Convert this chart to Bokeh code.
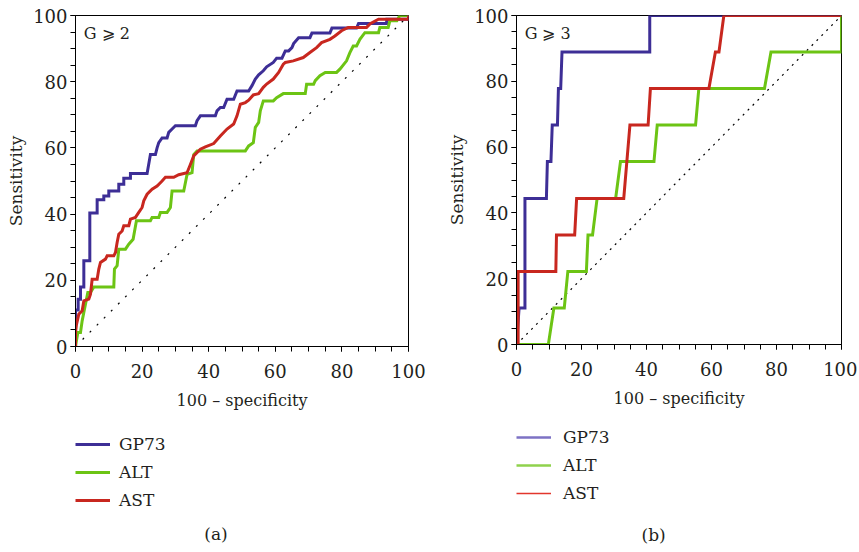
from bokeh.plotting import figure
from bokeh.models import Range1d, Legend, LegendItem, Label, SingleIntervalTicker
from bokeh.layouts import row, column
from bokeh.embed import file_html
from bokeh.resources import INLINE

FONT = "DejaVu Serif"
TXT = "#231f20"
NAN = float("nan")

# ---------------- Panel (a): G >= 2 ----------------
a_gp73_x = [0, 0, 0.8, 0.8, 1.5, 1.5, 2.5, 2.5, 4.3, 4.3, 6.5, 6.5, 8.5, 8.5, 10, 10, 13, 13, 14.5, 14.5,
            16.5, 16.5, 21.5, 22.5, 24, 24.5, 25, 26, 27.5, 28, 29, 30, 36, 36.5, 37.5, 42, 42.5, 43.5,
            44.5, 45.5, 47.5, 48.5, 52, 53, 54, 55, 56.4, 57.4, 59.4, 60.4, 62, 63, 64, 65, 65.5, 67,
            70.4, 71, 76.4, 77, 84.4, 85, 93.4, 93.5, 100, 100]
a_gp73_y = [0, 11, 11, 14.3, 14.3, 18, 18, 25.9, 25.9, 40.3, 40.3, 44.3, 44.3, 45.5, 45.5, 47, 47, 49, 49, 50.8,
            50.8, 52.3, 52.3, 58, 58, 60, 61.6, 63, 63, 64.7, 65.7, 66.7, 66.7, 68.2, 69.7, 69.7, 71.2, 72.2,
            72.2, 74.7, 74.7, 77.2, 77.2, 78.8, 80.8, 82.1, 83.3, 84.5, 85.8, 87.1, 87.1, 89.3, 89.3, 90.3, 91.5, 93.3,
            93.3, 94.7, 94.7, 96.2, 96.2, 97.6, 97.6, 98.9, 98.9, 100]

a_alt_x = [0, 0.7, 1.5, 2, 2.5, 3.7, 4.5, 5.5, 11.5, 11.7, 12.5, 13, 15, 16, 17.3, 18.3, 22.5, 23, 25, 25.5,
           27.5, 28.5, 29, 32.5, 33.5, 35, 35.5, 36.5, 51, 52, 53.4, 54, 55, 55.5, 56.4, 59.4, 60.4, 62.4,
           69, 69.4, 71.5, 72, 73.4, 75, 78.4, 79.4, 81.4, 82.4, 83.4, 84.4, 85.4, 86.9, 91, 91.4, 93.9,
           94.4, 96.5, 97.4, 100]
a_alt_y = [0, 4.2, 4.2, 7.75, 10.3, 16.3, 16.3, 18, 18, 23.4, 24.4, 29.4, 29.4, 30.9, 32.4, 38, 38, 39, 39, 40.5,
           40.5, 42, 47, 47, 52, 52.5, 58, 59.1, 59.1, 60.6, 61.6, 66.2, 67.7, 71.2, 74.2, 74.2, 75.2, 76.4,
           76.4, 79.2, 79.2, 80.3, 81.8, 82.8, 82.8, 83.8, 86.3, 88.8, 90.8, 90.8, 92.8, 94.8, 94.8, 96.4, 96.4,
           98.4, 98.4, 100, 100]

a_ast_x = [0, 0, 0.3, 1, 2, 2.5, 4, 4.5, 5, 6.5, 7, 7.5, 9, 9.5, 11.5, 12, 12.5, 13, 14, 14.5, 16, 16.5,
           18, 19, 20, 20.5, 21.5, 23, 24.5, 26, 27, 29.5, 31, 33.5, 34.5, 35.5, 37.5, 39, 41.5, 43.5, 45.5,
           47.5, 48.5, 49.5, 51, 52, 53.4, 55, 56.4, 57.4, 59.4, 61, 62.4, 63, 65.4, 68.4, 70.4, 72.4, 73.9,
           76.4, 77.9, 79.9, 81.9, 87.4, 88.5, 91, 100, 100]
a_ast_y = [0, 4.2, 6.7, 9.8, 10.8, 13.8, 14.3, 15.8, 20.3, 20.3, 23.4, 25.4, 26.4, 27.4, 27.4, 28.4, 31.4, 33.9,
           34.9, 36.5, 36.5, 38.5, 39, 40.5, 42, 44, 46, 47.5, 48.5, 50, 51.1, 51.1, 51.9, 52.5, 55, 57.6, 59.6,
           60.3, 61.3, 63.6, 65.7, 67.2, 69.7, 73.2, 73.7, 74.4, 76, 76.4, 78.3, 79.3, 80.8, 82.8, 85.3, 85.8,
           86.3, 87.3, 88.8, 90.3, 91.8, 92.8, 93.8, 95.4, 96.4, 96.4, 97.5, 98.9, 98.9, 100]

# ---------------- Panel (b): G >= 3 ----------------
b_gp73_x = [0, 0.8, 2.6, 2.6, 9.2, 9.5, 10.6, 11, 12.6, 12.9, 13.6, 14, 41, 41, 100]
b_gp73_y = [0, 11.1, 11.1, 44.4, 44.4, 55.6, 55.6, 66.7, 66.7, 77.8, 77.8, 88.9, 88.9, 100, 100]

b_alt_x = [0, 9.8, 11.5, 14.7, 15.8, 21.5, 22, 23.4, 24.8, 30.5, 32, 42.3, 43.3, 55.1, 56.1, 76.3, 78.3, 100, 100]
b_alt_y = [0, 0, 11.1, 11.1, 22.2, 22.2, 33.3, 33.3, 44.4, 44.4, 55.6, 55.6, 66.7, 66.7, 77.8, 77.8, 88.9, 88.9, 100]

b_ast_x = [0.5, 0.5, 12.1, 12.3, 17.9, 18.5, 33, 34.9, 40.5, 41.2, 59.2, 61.2, 62.3, 63.8, 100]
b_ast_y = [0, 22.2, 22.2, 33.3, 33.3, 44.4, 44.4, 66.7, 66.7, 77.8, 77.8, 88.9, 88.9, 100, 100]

diag = [0, 100]
series_names = ["GP73", "ALT", "AST"]
colors = ["#3d2e96", "#6cc414", "#c8271f"]
light_colors = ["#7d72c4", "#8fd24c", "#e2362c"]
panel_tags = ["G \u2a7e 2", "G \u2a7e 3"]
panel_letters = ["(a)", "(b)"]


def make_panel(width, height, bl, br, bb, data, tag, dash):
    p = figure(width=width, height=height, output_backend="svg", toolbar_location=None,
               x_range=Range1d(0, 100), y_range=Range1d(0, 100),
               min_border_left=bl, min_border_right=br, min_border_top=15, min_border_bottom=bb,
               x_axis_label="100 \u2013 specificity", y_axis_label="Sensitivity")
    p.grid.visible = False
    p.outline_line_color = "black"
    p.outline_line_width = 1
    p.background_fill_color = "white"
    p.border_fill_color = "white"
    for ax in (p.xaxis[0], p.yaxis[0]):
        ax.ticker = SingleIntervalTicker(interval=20, num_minor_ticks=4)
        ax.axis_line_color = "black"
        ax.major_tick_line_color = "black"
        ax.minor_tick_line_color = "black"
        ax.major_tick_in = 0
        ax.major_tick_out = 5
        ax.minor_tick_in = 0
        ax.minor_tick_out = 5
        ax.major_label_text_font = FONT
        ax.major_label_text_font_size = "18px"
        ax.major_label_text_color = TXT
        ax.axis_label_text_font = FONT
        ax.axis_label_text_font_style = "normal"
        ax.axis_label_text_color = TXT
    p.xaxis.axis_label_text_font_size = "16px"
    p.yaxis.axis_label_text_font_size = "17px"
    p.xaxis.major_label_standoff = 12
    p.xaxis.axis_label_standoff = 10
    p.yaxis.major_label_standoff = 3
    p.yaxis.axis_label_standoff = 4

    p.line(diag, diag, line_color="black", line_width=1.2, line_dash=dash)
    for (xs, ys), c in zip(data, colors):
        p.line(xs, ys, line_color=c, line_width=3, line_join="miter")
    p.add_layout(Label(x=2.5, y=94.6, text=tag, text_font=FONT, text_font_size="16px",
                       text_color=TXT, text_baseline="middle", text_align="left"))
    return p


def make_legend_fig(width, height, line_colors, line_widths, vy, standoff, letter, letter_xy):
    # frame of this figure is aligned by the column layout with the plot above (x: 0..100)
    q = figure(width=width, height=height, output_backend="svg", toolbar_location=None,
               x_range=Range1d(0, 100), y_range=Range1d(0, height),
               x_axis_location=None, y_axis_location=None,
               min_border_left=0, min_border_right=0, min_border_top=0, min_border_bottom=0)
    q.grid.visible = False
    q.outline_line_color = None
    q.background_fill_color = "white"
    q.border_fill_color = "white"
    rends = [q.line([NAN], [NAN], line_color=c, line_width=w) for c, w in zip(line_colors, line_widths)]
    items = [LegendItem(label=n, renderers=[r]) for n, r in zip(series_names, rends)]
    leg = Legend(items=items, location=(0, vy), orientation="vertical",
                 glyph_width=35, glyph_height=20, label_height=20, spacing=8,
                 label_standoff=standoff, padding=0, margin=0,
                 background_fill_alpha=0, border_line_alpha=0,
                 label_text_font=FONT, label_text_font_size="17px", label_text_color=TXT)
    q.add_layout(leg, "center")
    q.add_layout(Label(x=letter_xy[0], y=letter_xy[1], text=letter, text_font=FONT,
                       text_font_size="17px", text_color=TXT,
                       text_align="center", text_baseline="middle"))
    return q


p1 = make_panel(430, 420, 75, 22, 74,
                [(a_gp73_x, a_gp73_y), (a_alt_x, a_alt_y), (a_ast_x, a_ast_y)],
                panel_tags[0], "2 8")
p2 = make_panel(427, 420, 86, 16, 76,
                [(b_gp73_x, b_gp73_y), (b_alt_x, b_alt_y), (b_ast_x, b_ast_y)],
                panel_tags[1], "2 5")

q1 = make_legend_fig(430, 130, colors, [3, 3, 3], 40, 9, panel_letters[0], (42.2, 17))
q2 = make_legend_fig(427, 130, light_colors, [2.5, 2.5, 1.6], 47, 12, panel_letters[1], (42.2, 15.5))

layout = row(column(p1, q1), column(p2, q2))
open("out.html", "w").write(file_html(layout, INLINE))
